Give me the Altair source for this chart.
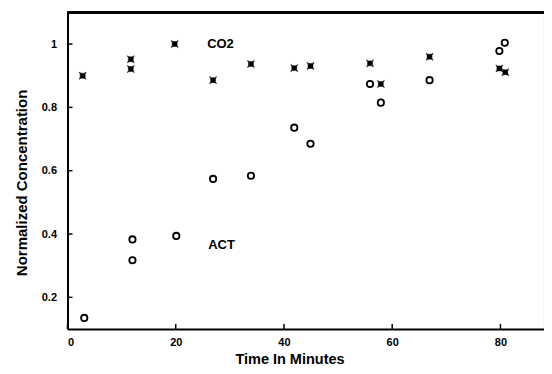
import altair as alt
import pandas as pd

co2_time = [2.8, 11.7, 11.7, 19.8, 26.9, 33.9, 41.9, 44.9, 55.9, 57.9, 66.9, 79.8, 80.9]
co2_conc = [0.900, 0.952, 0.921, 1.000, 0.886, 0.937, 0.924, 0.931, 0.939, 0.874, 0.960, 0.923, 0.911]
act_time = [3.1, 12.0, 12.0, 20.1, 26.9, 33.9, 41.9, 44.9, 55.9, 57.9, 66.9, 79.8, 80.8]
act_conc = [0.135, 0.383, 0.317, 0.394, 0.574, 0.584, 0.736, 0.685, 0.874, 0.815, 0.886, 0.978, 1.004]
x_ticks = [0, 20, 40, 60, 80]
y_ticks = [0.2, 0.4, 0.6, 0.8, 1.0]
labels = ["CO2", "ACT"]
label_time = [25.8, 26.0]
label_conc = [1.0, 0.364]

PX_PER_MIN = 5.412
X_MAX = 88.0
W = X_MAX * PX_PER_MIN
H = 316.6
FONT = "Liberation Sans, Arial, Helvetica, sans-serif"

co2 = pd.DataFrame({"t": co2_time, "c": co2_conc})
act = pd.DataFrame({"t": act_time, "c": act_conc})
lab = pd.DataFrame({"t": label_time, "c": label_conc, "label": labels})
xt = pd.DataFrame({"t": x_ticks})
yt = pd.DataFrame({"c": y_ticks})

xs = alt.Scale(domain=[0, X_MAX], nice=False, zero=False)
ys = alt.Scale(domain=[0.1, 1.1], nice=False, zero=False)

xaxis = alt.Axis(values=x_ticks, format="d", ticks=False, grid=False, domainColor="black",
                 domainWidth=2, labelFont=FONT, labelFontSize=11, labelFontWeight="bold",
                 labelColor="black", labelPadding=8, title="Time In Minutes",
                 titleFont=FONT, titleFontSize=14.5, titleFontWeight="bold", titleColor="black",
                 titleX=222, titleY=34.5, titleBaseline="alphabetic", titleAnchor="start",
                 titleAlign="center")
yaxis = alt.Axis(values=y_ticks, ticks=False, grid=False, domainColor="black", domainWidth=2,
                 labelFont=FONT, labelFontSize=11, labelFontWeight="bold", labelColor="black",
                 labelPadding=11, labelExpr="datum.value == 1 ? '1' : format(datum.value, '.1f')",
                 title="Normalized Concentration", titleFont=FONT, titleFontSize=15,
                 titleFontWeight="bold", titleColor="black", titleAngle=270,
                 titleX=-46, titleY=170, titleAlign="center", titleBaseline="middle",
                 titleAnchor="start")

marker = ("M-1,-1L-0.45,-0.7L0.45,-0.7L1,-1L0.7,-0.45L0.7,0.45L1,1L0.45,0.7"
          "L-0.45,0.7L-1,1L-0.7,0.45L-0.7,-0.45Z")

co2_layer = alt.Chart(co2).mark_point(
    shape=marker, filled=True, color="black", size=50,
    stroke="black", strokeWidth=0.5, opacity=1
).encode(x=alt.X("t:Q", scale=xs, axis=xaxis), y=alt.Y("c:Q", scale=ys, axis=yaxis))

act_layer = alt.Chart(act).mark_point(
    shape="circle", filled=False, color="black", size=40, strokeWidth=1.8, opacity=1
).encode(x=alt.X("t:Q", scale=xs), y=alt.Y("c:Q", scale=ys))

text_layer = alt.Chart(lab).mark_text(
    align="left", baseline="middle", font=FONT, fontSize=13, fontWeight="bold", color="black"
).encode(x=alt.X("t:Q", scale=xs), y=alt.Y("c:Q", scale=ys), text="label:N")

xtick_layer = alt.Chart(xt).mark_rule(color="black", strokeWidth=1.5).encode(
    x=alt.X("t:Q", scale=xs), y=alt.value(H), y2=alt.value(H - 5))
ytick_layer = alt.Chart(yt).mark_rule(color="black", strokeWidth=1.5).encode(
    y=alt.Y("c:Q", scale=ys), x=alt.value(0), x2=alt.value(5))
top_line = alt.Chart(xt).mark_rule(color="black", strokeWidth=2).encode(
    y=alt.value(0), x=alt.value(0), x2=alt.value(W))

chart = alt.layer(co2_layer, act_layer, text_layer, xtick_layer, ytick_layer, top_line).properties(
    width=W, height=H,
    autosize=alt.AutoSizeParams(type="none"),
    padding={"left": 59.5, "top": 4.4, "right": 0, "bottom": 37},
).configure_view(stroke=None).configure(background="white")

chart.save("out.html", embed_options={"renderer": "svg", "actions": False})
